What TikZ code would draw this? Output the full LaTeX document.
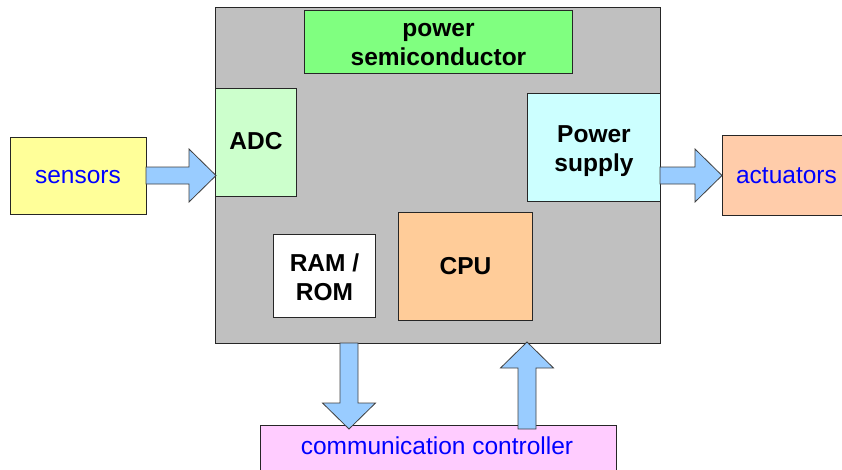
\documentclass[tikz,border=0pt]{standalone}
\usepackage{fontspec}
\setmainfont{Liberation Sans}
\usetikzlibrary{calc}
\definecolor{grayfill}{HTML}{C0C0C0}
\definecolor{psemifill}{HTML}{80FF80}
\definecolor{adcfill}{HTML}{CCFFCC}
\definecolor{psupfill}{HTML}{CCFFFF}
\definecolor{cpufill}{HTML}{FFCC99}
\definecolor{sensfill}{HTML}{FFFF99}
\definecolor{actfill}{HTML}{FFCCAA}
\definecolor{commfill}{HTML}{FFCCFF}
\definecolor{arrowfill}{HTML}{99CCFF}
\definecolor{bluetext}{HTML}{0000FF}
\tikzset{
  blk/.style={draw=black!85, line width=0.9pt, anchor=north west, inner sep=0pt, align=center,
    font=\fontsize{24.5}{29}\selectfont\bfseries},
  blktext/.style={inner sep=0pt, align=center, font=\fontsize{24.5}{29}\selectfont\bfseries},
  outer/.style={draw=black!85, line width=0.9pt, anchor=north west, inner sep=0pt,
    font=\fontsize{24.5}{29}\selectfont, text=bluetext},
  outtext/.style={font=\fontsize{24.5}{29}\selectfont, text=bluetext, anchor=base},
  barrow/.style={draw=black!75, line width=0.8pt, fill=arrowfill, line join=miter},
}
\newcommand{\harr}[2]{\draw[barrow] ($(#1)+(0,-8.5)$) -- ($(#2)+(-27,-8.5)$) -- ($(#2)+(-27,-26.5)$) -- (#2) -- ($(#2)+(-27,26.5)$) -- ($(#2)+(-27,8.5)$) -- ($(#1)+(0,8.5)$) -- cycle;}
\newcommand{\varr}[3]{\draw[barrow] ($(#1)+(-9,0)$) -- ($(#2)+(-9,#3)$) -- ($(#2)+(-26.5,#3)$) -- (#2) -- ($(#2)+(26.5,#3)$) -- ($(#2)+(9,#3)$) -- ($(#1)+(9,0)$) -- cycle;}
\begin{document}
\begin{tikzpicture}[x=1pt,y=-1pt]
\useasboundingbox (0,0) rectangle (842,469);
% main board
\node[blk, fill=grayfill, minimum width=445pt, minimum height=336pt] (main) at (215,7) {};
% inner blocks
\node[blk, fill=psemifill, minimum width=268pt, minimum height=63pt] (psemi) at (304,10) {};
\node[blktext, yshift=-3pt] (psemit) at (psemi.center) {power\\semiconductor};
\node[blk, fill=adcfill, minimum width=81pt, minimum height=108pt] (adc) at (215,88) {};
\node[blktext, anchor=base] (adct) at (256,149) {ADC};
\node[blk, fill=psupfill, minimum width=133pt, minimum height=108pt] (psup) at (527,93) {};
\node[blktext, yshift=-3.5pt] (psupt) at (psup.center) {Power\\supply};
\node[blk, fill=white, minimum width=102pt, minimum height=83pt] (ram) at (273,234) {};
\node[blktext, yshift=-1pt] (ramt) at (ram.center) {RAM /\\ROM};
\node[blk, fill=cpufill, minimum width=134pt, minimum height=108pt] (cpu) at (398,212) {CPU};
% outer blocks
\node[outer, fill=sensfill, minimum width=136pt, minimum height=77pt] (sens) at (10,137) {};
\node[outtext] (senst) at (78,183.5) {sensors};
\node[outer, fill=actfill, minimum width=130pt, minimum height=80pt] (act) at (722,135) {};
\node[outtext] (actt) at (786.5,183.5) {actuators};
\node[outer, fill=commfill, minimum width=356pt, minimum height=60pt] (comm) at (260,425) {};
\node[outtext] (commt) at (437,454) {communication controller};
% arrow end points
\coordinate (s1) at (146,175.5);
\coordinate (s2) at (216,175.5);
\coordinate (a1) at (660,175.5);
\coordinate (a2) at (722,175.5);
\coordinate (d1) at (349,343);
\coordinate (d2) at (349,429);
\coordinate (u1) at (527,429);
\coordinate (u2) at (527,342);
\harr{s1}{s2}
\harr{a1}{a2}
\varr{d1}{d2}{-26}
\varr{u1}{u2}{26}
\end{tikzpicture}
\end{document}
